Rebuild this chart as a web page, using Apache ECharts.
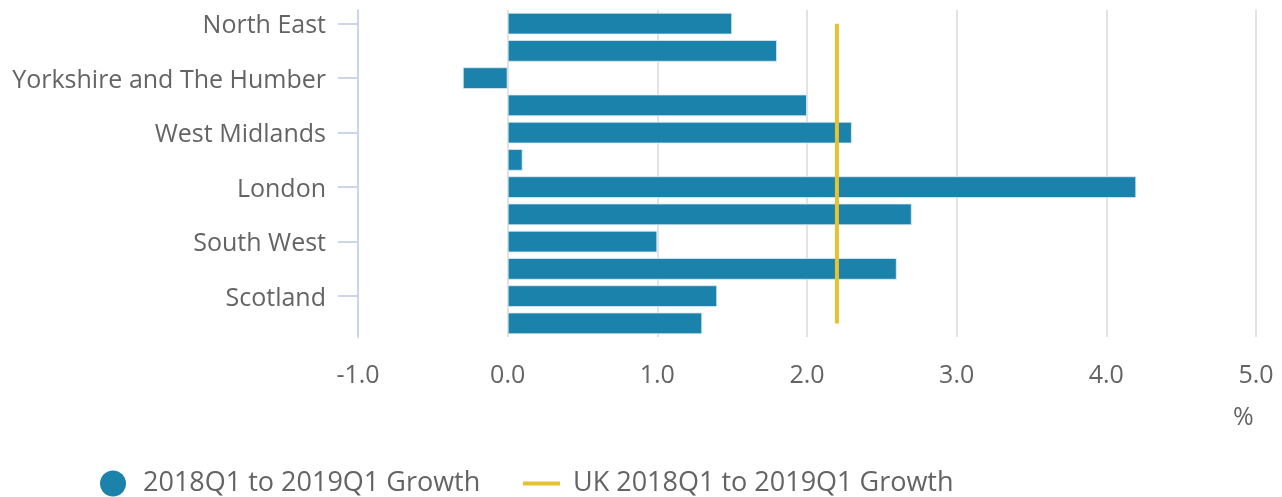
<!DOCTYPE html>
<html>
<head>
<meta charset="utf-8">
<script src="https://cdn.jsdelivr.net/npm/echarts@6/dist/echarts.min.js"></script>
<style>
html,body{margin:0;padding:0;background:#fff;}
#chart{width:1282px;height:497px;}
</style>
</head>
<body>
<div id="chart"></div>
<script>
var categories = ["North East","North West","Yorkshire and The Humber","East Midlands","West Midlands","East","London","South East","South West","Wales","Scotland","Northern Ireland"];
var growthValues = [1.5, 1.8, -0.3, 2.0, 2.3, 0.1, 4.2, 2.7, 1.0, 2.6, 1.4, 1.3];
var ukGrowth = 2.2;
var ukValues = categories.map(function(){ return ukGrowth; });
var seriesNames = ["2018Q1 to 2019Q1 Growth", "UK 2018Q1 to 2019Q1 Growth"];
var unitLabel = "%";

var chart = echarts.init(document.getElementById('chart'));
var textColor = '#646464';
var font = '"Open Sans", sans-serif';
chart.setOption({
  animation: false,
  grid: {left: 358, right: 26, top: 10, bottom: 160, containLabel: false},
  xAxis: {
    type: 'value', min: -1, max: 5, interval: 1,
    axisLine: {show: false}, axisTick: {show: false},
    splitLine: {show: true, lineStyle: {color: '#e3e3e3', width: 2}},
    axisLabel: {color: textColor, fontSize: 25, fontFamily: font, margin: 26,
      formatter: function(v){ return v.toFixed(1); }}
  },
  yAxis: {
    type: 'category', data: categories, inverse: true,
    axisLine: {show: true, onZero: false, lineStyle: {color: '#ccd6eb', width: 2}},
    axisTick: {show: true, interval: 1, alignWithLabel: true, length: 20, lineStyle: {color: '#ccd6eb', width: 2}},
    axisLabel: {interval: 1, color: textColor, fontSize: 25, fontFamily: font, margin: 32,
      verticalAlign: 'top', lineHeight: 25, padding: [-10,0,0,0]},
    splitLine: {show: false}
  },
  legend: [{
    data: [{name: seriesNames[0], icon: 'circle'}],
    left: 100, top: 470, padding: 0, itemWidth: 26, itemHeight: 26,
    itemStyle: {borderWidth: 0},
    textStyle: {color: textColor, fontSize: 27, fontFamily: font, padding: [0,0,0,12]}
  },{
    data: [{name: seriesNames[1], icon: 'rect'}],
    left: 523, top: 470, padding: 0, itemWidth: 37, itemHeight: 4,
    itemStyle: {borderWidth: 0},
    textStyle: {color: textColor, fontSize: 27, fontFamily: font, padding: [0,0,0,8]}
  }],
  graphic: [{
    type: 'text', left: 1233, top: 405,
    style: {text: unitLabel, fill: textColor, fontSize: 25, fontFamily: font}
  }],
  series: [{
    name: seriesNames[0], type: 'bar', data: growthValues, barWidth: '80%',
    itemStyle: {color: '#1b83ab', borderColor: 'rgba(220,235,245,0.8)', borderWidth: 1}
  },{
    name: seriesNames[1], type: 'line', data: ukValues, showSymbol: false, symbol: 'none', z: 5,
    lineStyle: {color: '#e6c230', width: 4},
    itemStyle: {color: '#e6c230'}
  }]
});
</script>
</body>
</html>
